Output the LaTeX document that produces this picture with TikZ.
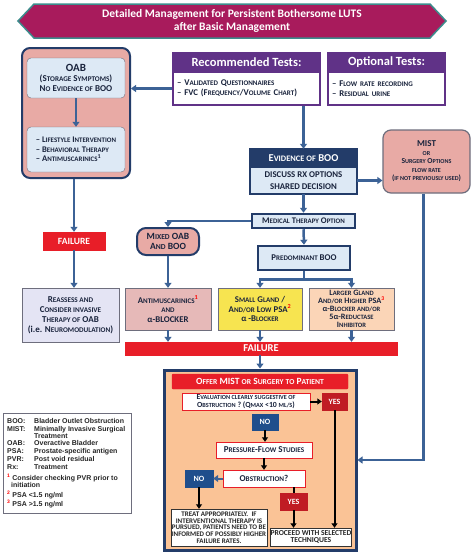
\documentclass[tikz,border=0pt]{standalone}
\usepackage{fontspec}
\setmainfont{Carlito}
\newfontfamily\legfont{Liberation Sans}
\usetikzlibrary{arrows.meta,calc}
\makeatletter
\newcommand\lc[1]{{\fontsize{\fpeval{0.8*\f@size}}{\f@baselineskip}\selectfont\MakeUppercase{#1}}}
\makeatother
\definecolor{hdr}{RGB}{168,27,92}
\definecolor{hdrb}{RGB}{60,140,140}
\definecolor{pinkbox}{RGB}{232,170,165}
\definecolor{navy}{RGB}{35,60,105}
\definecolor{lblue}{RGB}{221,233,245}
\definecolor{arrowblue}{RGB}{60,98,150}
\definecolor{purp}{RGB}{96,50,135}
\definecolor{fred}{RGB}{232,30,40}
\definecolor{lav}{RGB}{228,228,244}
\definecolor{apink}{RGB}{230,185,184}
\definecolor{yel}{RGB}{247,228,80}
\definecolor{peach}{RGB}{251,213,183}
\definecolor{orng}{RGB}{250,195,150}
\definecolor{dred}{RGB}{192,28,36}
\definecolor{nob}{RGB}{31,78,140}
\definecolor{txt}{RGB}{25,35,60}
\definecolor{gbord}{RGB}{110,110,125}
\newcommand\rs[1]{\textsuperscript{\color{red}#1}}
\begin{document}
\begin{tikzpicture}[x=1pt,y=-1pt,
  conn/.style={draw=arrowblue, line width=2.5pt, -{Triangle[length=5pt,width=7pt]}},
  bconn/.style={draw=black, line width=2pt, -{Triangle[length=4.5pt,width=6pt]}},
  bx/.style={rectangle, draw, align=center, inner sep=0pt, text=txt},
  fnt/.style={font=\bfseries\fontsize{#1}{\fpeval{#1*1.12}}\selectfont},
  tfnt/.style={font=\bfseries\fontsize{#1}{\fpeval{#1*0.95}}\selectfont}
]
\useasboundingbox[fill=white] (0,0) rectangle (474,554);
% header
\filldraw[fill=hdr,draw=hdrb,line width=1.5pt] (18,21)--(34,4)--(430,4)--(446,21)--(430,38)--(34,38)--cycle;
\node[fnt=11.5, text=white, align=center] (header) at (232,21) {Detailed Management for Persistent Bothersome LUTS\\after Basic Management};
% OAB column
\node[draw=navy, line width=2pt, fill=pinkbox, rounded corners=8pt, minimum width=108pt, minimum height=130pt] (oab) at (76,113) {};
\node[bx, draw=gbord, fill=lblue, rounded corners=4pt, minimum width=98pt, minimum height=40pt, fnt=9] (oab1) at (76,78) {{\fontsize{11}{12}\selectfont OAB}\\(S\lc{torage} S\lc{ymptoms})\\N\lc{o} E\lc{vidence of} BOO};
\node[bx, draw=gbord, fill=lblue, rounded corners=4pt, minimum width=98pt, minimum height=45pt, fnt=8.6, align=left] (oab2) at (76,149.5) {– L\lc{ifestyle} I\lc{ntervention}\\– B\lc{ehavioral} T\lc{herapy}\\– A\lc{ntimuscarinics}\textsuperscript{1}};
\node[bx, draw=fred, fill=fred, text=white, minimum width=62pt, minimum height=18pt, fnt=9.5] (failL) at (74,241) {FAILURE};
\node[bx, draw=gbord, fill=lav, minimum width=97pt, minimum height=54pt, fnt=9] (reassess) at (70.5,315) {R\lc{eassess and}\\C\lc{onsider invasive}\\T\lc{herapy of} OAB\\(i.e. N\lc{euromodulation})};
% tests
\node[bx, fill=purp, draw=purp, line width=1.5pt, minimum width=147pt, minimum height=19pt, text=white, fnt=12.5] (recH) at (246.5,62.5) {Recommended Tests:};
\node[bx, fill=white, draw=purp, line width=1.5pt, minimum width=147pt, minimum height=33pt, align=left, fnt=8.8, text width=139pt] (recB) at (246.5,88.5) {– V\lc{alidated} Q\lc{uestionnaires}\\– FVC (F\lc{requency}/V\lc{olume} C\lc{hart})};
\node[bx, fill=purp, draw=purp, line width=1.5pt, minimum width=117pt, minimum height=19pt, text=white, fnt=12.5] (optH) at (386.5,62.5) {Optional Tests:};
\node[bx, fill=white, draw=purp, line width=1.5pt, minimum width=117pt, minimum height=33pt, align=left, fnt=8.8, text width=109pt] (optB) at (386.5,88.5) {– F\lc{low rate recording}\\– R\lc{esidual urine}};
% evidence
\node[bx, fill=navy, draw=navy, minimum width=107pt, minimum height=18pt, text=white, fnt=10.5] (evH) at (303.5,158) {E\lc{vidence of} BOO};
\node[bx, fill=lblue, draw=navy, minimum width=107pt, minimum height=27pt, fnt=11] (evB) at (303.5,180.5) {\lc{Discuss Rx options}\\\lc{shared decision}};
\draw[navy, line width=2.5pt] (evH.north west) rectangle (evB.south east);
\node[bx, draw=gbord, fill=pinkbox, rounded corners=8pt, minimum width=87pt, minimum height=63pt, line width=1.2pt, fnt=7.6] (mist) at (426.5,161.5) {{\fontsize{9}{10}\selectfont MIST}\\\lc{or}\\S\lc{urgery} O\lc{ptions}\\\lc{flow rate}\\(\lc{if not previously used})};
\node[bx, draw=navy, line width=2.5pt, fill=lblue, minimum width=103pt, minimum height=14pt, fnt=8.6] (med) at (303.5,221) {M\lc{edical} T\lc{herapy} O\lc{ption}};
\node[bx, draw=navy, line width=2pt, fill=pinkbox, rounded corners=9pt, minimum width=62pt, minimum height=27pt, fnt=9.5] (mixed) at (168,241.5) {M\lc{ixed} OAB\\A\lc{nd} BOO};
\node[bx, draw=navy, line width=2.5pt, fill=lblue, minimum width=92pt, minimum height=24pt, fnt=8.8] (pred) at (304,258) {P\lc{redominant} BOO};
\node[bx, draw=gbord, fill=apink, minimum width=86pt, minimum height=42pt, fnt=8.8] (antim) at (168,309) {A\lc{ntimuscarinics}\rs{1}\\\lc{and}\\α-BLOCKER};
\node[bx, draw=gbord, fill=yel, minimum width=84pt, minimum height=42pt, fnt=8.8] (small) at (260,309) {S\lc{mall} G\lc{land} /\\A\lc{nd/or} L\lc{ow} PSA\rs{2}\\α -B\lc{locker}};
\node[bx, draw=gbord, fill=peach, minimum width=85pt, minimum height=42pt, fnt=8.2, font=\bfseries\fontsize{8.2}{8}\selectfont] (large) at (351.5,309) {L\lc{arger} G\lc{land}\\A\lc{nd/or} H\lc{igher} PSA\rs{3}\\α-B\lc{locker and/or}\\5α-R\lc{eductase}\\I\lc{nhibitor}};
\node[bx, draw=fred, fill=fred, minimum width=272pt, minimum height=13pt, text=white, fnt=10.5] (fail2) at (261,348.5) {FAILURE};
% orange region
\node[draw=navy, line width=3pt, fill=orng, minimum width=192pt, minimum height=180pt] (orange) at (260,460) {};
\node[bx, draw=fred, fill=fred, rounded corners=1pt, minimum width=176pt, minimum height=15pt, text=white, fnt=9.5] (offer) at (260,381.5) {O\lc{ffer} MIST \lc{or} S\lc{urgery} \lc{to} P\lc{atient}};
\node[bx, draw=fred, fill=white, minimum width=128pt, minimum height=17pt, tfnt=7.8] (eval) at (246,401.5) {E\lc{valuation clearly suggestive of}\\O\lc{bstruction} ? (Q\lc{max} <10 \lc{ml/s})};
\node[bx, draw=dred, fill=dred, minimum width=25pt, minimum height=17pt, text=white, fnt=8] (yes1) at (334.5,401.5) {YES};
\node[bx, draw=nob, fill=nob, minimum width=26pt, minimum height=16pt, text=white, fnt=8] (no1) at (265,422) {NO};
\node[bx, draw=fred, fill=white, minimum width=96pt, minimum height=16pt, fnt=9] (pfs) at (264,450) {P\lc{ressure}-F\lc{low} S\lc{tudies}};
\node[bx, draw=fred, fill=white, minimum width=82pt, minimum height=17pt, fnt=9] (obs) at (264,478.5) {O\lc{bstruction}?};
\node[bx, draw=nob, fill=nob, minimum width=28pt, minimum height=17pt, text=white, fnt=8] (no2) at (199,478.5) {NO};
\node[bx, draw=dred, fill=dred, minimum width=27pt, minimum height=17pt, text=white, fnt=8] (yes2) at (293.5,501.5) {YES};
\node[bx, draw=black!80, fill=white, minimum width=96pt, minimum height=37pt, tfnt=7, text=black!85] (treat) at (219,527.5) {TREAT APPROPRIATELY.\ \ IF\\INTERVENTIONAL THERAPY IS\\PURSUED, PATIENTS NEED TO BE\\INFORMED OF POSSIBLY HIGHER\\FAILURE RATES.};
\node[bx, draw=black!80, fill=white, minimum width=80pt, minimum height=18pt, tfnt=7.6, text=black!85] (proceed) at (311,537) {PROCEED WITH SELECTED\\TECHNIQUES};
% legend
\node[draw=gbord, fill=white, minimum width=128pt, minimum height=100pt, inner sep=0pt] (legend) at (67,463) {};
\node[anchor=north west, inner sep=0pt, font=\legfont\bfseries\fontsize{7}{7.2}\selectfont, text=black!85] (legtext) at (7,418) {%
\begin{tabular}{@{}p{27pt}@{}p{96pt}@{}}
BOO: & Bladder Outlet Obstruction\\[0.5pt]
MIST: & Minimally Invasive Surgical\\
 & Treatment\\[0.5pt]
OAB: & Overactive Bladder\\[0.5pt]
PSA: & Prostate-specific antigen\\[0.5pt]
PVR: & Post void residual\\[0.5pt]
Rx: & Treatment\\[3pt]
\multicolumn{2}{@{}l@{}}{\rs{1} Consider checking PVR prior to}\\
\multicolumn{2}{@{}l@{}}{\ \ initiation}\\[0.5pt]
\multicolumn{2}{@{}l@{}}{\rs{2} PSA <1.5 ng/ml}\\[0.5pt]
\multicolumn{2}{@{}l@{}}{\rs{3} PSA >1.5 ng/ml}
\end{tabular}};
% connectors
\draw[conn] (recB.west) -- (recB.west -| oab.east);
\draw[conn] (recB.south -| evH.north) -- (evH.north);
\draw[conn] (oab1.south) -- (oab2.north);
\draw[conn] (oab.south -| failL.north) -- (failL.north);
\draw[conn] (failL.south) -- (failL.south |- reassess.north);
\draw[conn] (evB.east) -- (evB.east -| mist.west);
\draw[conn] (evB.south) -- (med.north);
\draw[conn] (med.west) -| (mixed.north);
\draw[conn] (med.south) -- (pred.north);
\draw[arrowblue, line width=2.5pt] (pred.south) -- ($(pred.south)+(0,8)$);
\draw[conn] ($(pred.south)+(0,8)$) -| (small.north);
\draw[conn] ($(pred.south)+(0,8)$) -| (large.north);
\draw[conn] (mixed.south) -- (antim.north);
\draw[conn] (antim.south) -- (antim.south |- fail2.north);
\draw[conn] (small.south) -- (small.south |- fail2.north);
\draw[conn] (large.south) -- (large.south |- fail2.north);
\draw[conn] (fail2.south -| orange.north) -- (orange.north);
\draw[conn] ($(mist.south)+(-3,0)$) |- (orange.east);
\draw[bconn] (eval.east) -- (yes1.west);
\draw[bconn] (no1.south) -- (no1.south |- pfs.north);
\draw[bconn] (pfs.south) -- (obs.north);
\draw[conn, line width=2pt] (obs.west) -- (no2.east);
\draw[bconn] (no2.south) -- (no2.south |- treat.north);
\draw[black, line width=2pt] (obs.south -| yes2.north) -- (yes2.north);
\draw[bconn] (yes2.south) -- (yes2.south |- proceed.north);
\draw[bconn] (yes1.south) -- (yes1.south |- proceed.north);
\end{tikzpicture}
\end{document}
